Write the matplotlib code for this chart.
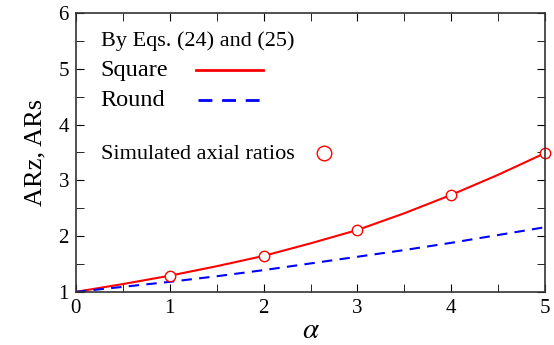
import matplotlib
matplotlib.use('Agg')
import matplotlib.pyplot as plt
from matplotlib.ticker import MultipleLocator

plt.rcParams['font.family'] = ['Liberation Serif', 'DejaVu Serif']
plt.rcParams['mathtext.fontset'] = 'stix'

# curves
alpha = [0, 0.5, 1, 1.5, 2, 2.5, 3, 3.5, 4, 4.5, 5]
ar_square = [1.0, 1.14, 1.29, 1.46, 1.645, 1.87, 2.11, 2.41, 2.74, 3.10, 3.49]
ar_round = [1.0, 1.09, 1.18, 1.28, 1.39, 1.51, 1.63, 1.75, 1.88, 2.02, 2.16]

# simulated points
alpha_sim = [1, 2, 3, 4, 5]
ar_sim = [1.29, 1.645, 2.11, 2.74, 3.49]

fig = plt.figure(figsize=(5.54, 3.45), dpi=100)
ax = fig.add_axes([0.137, 0.154, 0.847, 0.808])

ax.plot(alpha, ar_square, color='red', lw=1.5)
ax.plot(alpha, ar_round, color='blue', lw=1.5, ls=(0, (5, 3.5)))
ax.plot(alpha_sim, ar_sim, 'o', ms=7.5, mfc='white', mec='red', mew=1, clip_on=False)

ax.set_xlim(0, 5)
ax.set_ylim(1, 6)
ax.xaxis.set_major_locator(MultipleLocator(1))
ax.xaxis.set_minor_locator(MultipleLocator(0.5))
ax.yaxis.set_major_locator(MultipleLocator(1))
ax.yaxis.set_minor_locator(MultipleLocator(0.5))
ax.tick_params(which='both', direction='in', top=True, right=True, labelsize=15, length=6, pad=5)
for s in ax.spines.values():
    s.set_linewidth(1.2)
    s.set_color('#333333')

ax.set_xlabel(r'$\alpha$', fontsize=21, labelpad=0)
ax.set_ylabel('ARz, ARs', fontsize=19, labelpad=9)

# hand-made legend
tx = ax.transAxes
ax.text(0.053, 0.90, 'By Eqs. (24) and (25)', fontsize=16, transform=tx, va='center')
ax.text(0.053, 0.795, 'Square', fontsize=17.5, transform=tx, va='center')
ax.plot([0.256, 0.399], [0.795, 0.795], color='red', lw=2, transform=tx)
ax.text(0.053, 0.688, 'Round', fontsize=17.5, transform=tx, va='center')
ax.plot([0.26, 0.40], [0.688, 0.688], color='blue', lw=2, ls=(0, (5, 3.5)), transform=tx)
ax.text(0.053, 0.492, 'Simulated axial ratios', fontsize=16, transform=tx, va='center')
ax.plot([0.529], [0.497], 'o', ms=10.5, mfc='white', mec='red', mew=1, transform=tx)

fig.savefig('out.png', dpi=100)
